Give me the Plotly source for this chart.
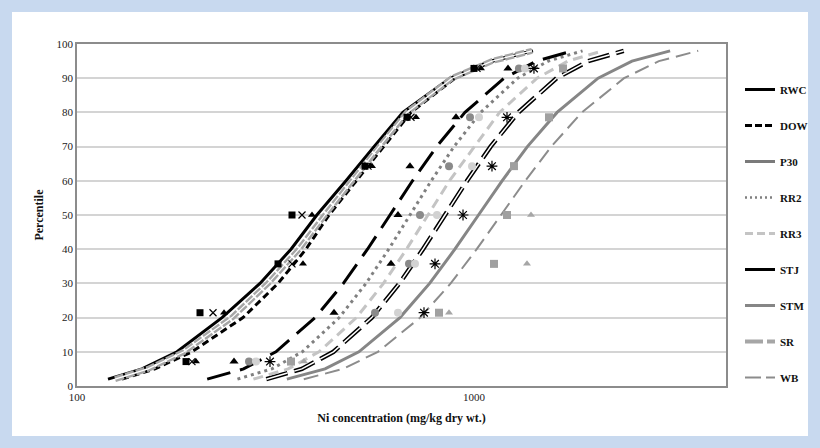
import plotly.graph_objects as go

# ---------------- data ----------------
pct_curve = [2, 5, 10, 20, 30, 40, 50, 60, 70, 80, 90, 95, 98]
pct_data = [7.14, 21.43, 35.71, 50, 64.29, 78.57, 92.86]

series_names = ["RWC", "DOW", "P30", "RR2", "RR3", "STJ", "STM", "SR", "WB"]

rwc_curve = [119.7, 145.8, 178.6, 231.9, 289.0, 346.0, 402.0, 476.0, 560.0, 662.0, 870.0, 1097, 1400]
dow_curve = [129.8, 157.2, 194.8, 261.9, 320.9, 377.4, 431.3, 504.5, 593.3, 693.9, 895.7, 1117, 1408]
p30_curve = [299.8, 368.5, 442.6, 552.6, 648.9, 743.9, 845.2, 960.3, 1101, 1293, 1614, 1939, 2383]
rr2_curve = [253.6, 309.6, 369.4, 457.7, 534.5, 609.9, 689.9, 780.4, 890.5, 1040, 1288, 1538, 1877]
rr3_curve = [278.2, 340.3, 407.0, 505.7, 591.5, 676.1, 765.8, 867.5, 1002.7, 1159.8, 1441, 1723, 2108]
stj_curve = [212.8, 262.8, 317.0, 397.8, 468.8, 539.2, 614.4, 700.1, 805.2, 948.9, 1191, 1436, 1774]
stm_curve = [337.8, 421.5, 513.0, 650.9, 773.1, 895.2, 1026.5, 1177, 1363, 1619, 2054, 2500, 3119]
sr_curve = [124.7, 151.0, 186.0, 245.7, 302.8, 362.4, 421.4, 492.8, 576.4, 678.0, 880.0, 1110, 1400]
wb_curve = [372.6, 468.0, 572.8, 731.9, 873.5, 1015.8, 1169.5, 1346.4, 1565.8, 1868.9, 2387.7, 2922, 3671]

rwc_data = [188.2, 204.1, 320.9, 348.0, 531.4, 678.1, 1000]
dow_data = [194.8, 220.1, 348.0, 368.8, 540.8, 694.0, 1017.6]
sr_data = [199.4, 234.6, 370.9, 390.8, 553.4, 714.4, 1041.5]
stj_data = [248.6, 444.0, 617.9, 643.5, 689.9, 900.9, 1218]
rr2_data = [271.2, 563.2, 685.9, 731.1, 865.1, 977.1, 1298]
rr3_data = [282.4, 643.5, 710.2, 806.9, 988.5, 1029.5, 1344]
p30_data = [306.3, 748.3, 797.6, 938.3, 1110, 1211, 1416]
stm_data = [346.0, 816.3, 1123, 1211, 1261, 1545, 1676]
wb_data = [373.0, 865.1, 1360, 1392, None, None, None]

x_ticks = [100, 1000]
y_ticks = [0, 10, 20, 30, 40, 50, 60, 70, 80, 90, 100]

curves = {"RWC": rwc_curve, "DOW": dow_curve, "P30": p30_curve, "RR2": rr2_curve,
          "RR3": rr3_curve, "STJ": stj_curve, "STM": stm_curve, "SR": sr_curve, "WB": wb_curve}
points = {"RWC": rwc_data, "DOW": dow_data, "SR": sr_data, "STJ": stj_data, "RR2": rr2_data,
          "RR3": rr3_data, "P30": p30_data, "STM": stm_data, "WB": wb_data}

# ---------------- styles ----------------
SERIF = "Liberation Serif, Times New Roman, serif"
line_styles = {
    "RWC": [dict(color="black", width=3, dash="solid")],
    "DOW": [dict(color="black", width=3, dash="7px,4px")],
    "P30": [dict(color="black", width=4.5, dash="22px,7px"), dict(color="white", width=1.5, dash="22px,7px")],
    "RR2": [dict(color="#808080", width=3, dash="3px,4px")],
    "RR3": [dict(color="#c4c4c4", width=3, dash="10px,6px")],
    "STJ": [dict(color="black", width=3, dash="24px,10px")],
    "STM": [dict(color="#868686", width=3, dash="solid")],
    "SR": [dict(color="#a6a6a6", width=6, dash="9px,2px"), dict(color="white", width=1.2, dash="solid")],
    "WB": [dict(color="#8c8c8c", width=2, dash="15px,7px")],
}
legend_styles = {
    "RWC": dict(color="black", width=3, dash="solid"),
    "DOW": dict(color="black", width=3, dash="7px,3px"),
    "P30": dict(color="#7a7a7a", width=3, dash="solid"),
    "RR2": dict(color="#808080", width=2.5, dash="2px,3px"),
    "RR3": dict(color="#c4c4c4", width=3, dash="8px,4px"),
    "STJ": dict(color="black", width=3, dash="solid"),
    "STM": dict(color="#868686", width=3, dash="solid"),
    "SR": dict(color="#a6a6a6", width=4, dash="18px,4px"),
    "WB": dict(color="#8c8c8c", width=2, dash="16px,5px"),
}
marker_styles = {
    "RWC": dict(symbol="square", size=7, color="black"),
    "DOW": dict(symbol="x-thin", size=7, color="black", line=dict(color="black", width=1.2)),
    "SR": dict(symbol="triangle-up", size=7, color="black"),
    "STJ": dict(symbol="triangle-up", size=8, color="black"),
    "RR2": dict(symbol="circle", size=8, color="#8a8a8a"),
    "RR3": dict(symbol="circle", size=8, color="#d2d2d2"),
    "P30": dict(symbol="asterisk", size=9, color="black", line=dict(color="black", width=1.2)),
    "STM": dict(symbol="square", size=8, color="#a0a0a0"),
    "WB": dict(symbol="triangle-up", size=7, color="#a6a6a6"),
}

fig = go.Figure()

# curves
for name in series_names:
    for st in line_styles[name]:
        fig.add_trace(go.Scatter(x=curves[name], y=pct_curve, mode="lines", line=st,
                                 showlegend=False, hoverinfo="skip"))

# data points
for name in ["RWC", "DOW", "SR", "STJ", "RR2", "RR3", "P30", "STM", "WB"]:
    fig.add_trace(go.Scatter(x=points[name], y=pct_data, mode="markers",
                             marker=marker_styles[name], showlegend=False))

# legend entries
for name in series_names:
    fig.add_trace(go.Scatter(x=[None], y=[None], mode="lines", name=name,
                             line=legend_styles[name], legendgroup=name, showlegend=True))

L, R, T, B = 77, 94, 44, 62
W, H = 820, 448
pw, ph = W - L - R, H - T - B

def px2paper_x(px):
    return (px - L) / pw

def px2paper_y(py):
    return (H - B - py) / ph

fig.add_shape(type="rect", xref="paper", yref="paper",
              x0=px2paper_x(12), x1=px2paper_x(808), y0=px2paper_y(436), y1=px2paper_y(12),
              fillcolor="white", line=dict(width=0), layer="below")

fig.update_layout(
    width=W, height=H, autosize=False,
    margin=dict(l=L, r=R, t=T, b=B, autoexpand=False),
    paper_bgcolor="#c8d9ef",
    plot_bgcolor="white",
    font=dict(family=SERIF, size=11, color="#222"),
    legend=dict(x=px2paper_x(740), y=px2paper_y(75), xanchor="left", yanchor="top",
                font=dict(family=SERIF, size=11, color="#111", weight="bold"),
                tracegroupgap=17, traceorder="grouped", bgcolor="rgba(0,0,0,0)",
                itemwidth=30),
)
fig.update_xaxes(type="log", range=[2, 3.6348], tickvals=x_ticks, ticktext=[str(v) for v in x_ticks],
                 showgrid=False, showline=True, linecolor="#8c8c8c", linewidth=1.5, mirror=True,
                 ticks="", tickfont=dict(family=SERIF, size=11, color="#222"),
                 title=dict(text="Ni concentration (mg/kg dry wt.)", standoff=12,
                            font=dict(family=SERIF, size=12, color="#111", weight="bold")),
                 zeroline=False)
fig.update_yaxes(range=[0, 100], tickvals=y_ticks, showgrid=True, gridcolor="#d4d4d4", gridwidth=1.5,
                 showline=True, linecolor="#8c8c8c", linewidth=1.5, mirror=True, ticks="",
                 tickfont=dict(family=SERIF, size=11, color="#222"),
                 title=dict(text="Percentile", standoff=10,
                            font=dict(family=SERIF, size=12, color="#111", weight="bold")),
                 zeroline=False)

fig.write_html("out.html",
               config={"displayModeBar": False, "responsive": False},
               post_script="document.body.style.margin='0';document.body.style.overflow='hidden';")
